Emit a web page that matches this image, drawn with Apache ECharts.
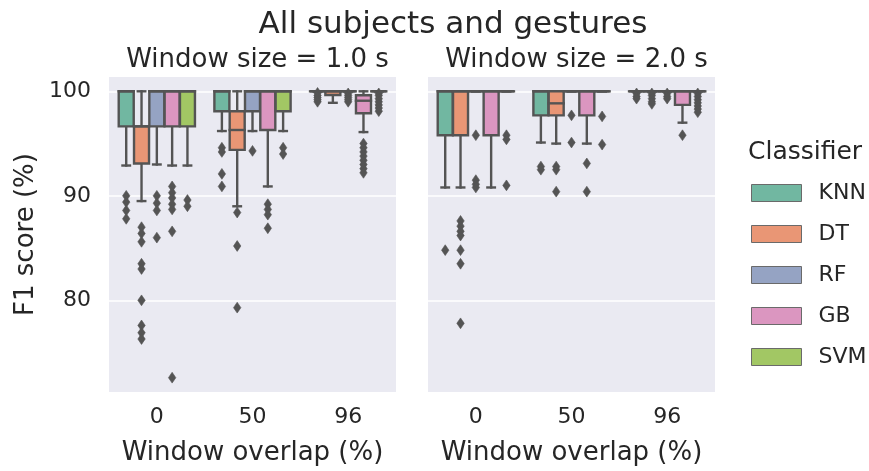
<!DOCTYPE html>
<html>
<head>
<meta charset="utf-8">
<script src="https://cdn.jsdelivr.net/npm/echarts@6/dist/echarts.min.js"></script>
<style>
  html, body { margin: 0; padding: 0; background: #ffffff; }
  #chart { width: 869px; height: 471px; }
</style>
</head>
<body>
<div id="chart"></div>
<script>
// Categories and labels
const overlaps = ['0', '50', '96'];
const classifiers = ['KNN', 'DT', 'RF', 'GB', 'SVM'];
const windowTitles = ['Window size = 1.0 s', 'Window size = 2.0 s'];
const yTicks = [80, 90, 100];

// Box statistics per overlap: [lower whisker, Q1, median, Q3, upper whisker]
// Window size = 1.0 s
const knnBox1 = [[92.9, 96.65, 100, 100, 100], [96.2, 98.1, 100, 100, 100], [100, 100, 100, 100, 100]];
const dtBox1  = [[89.5, 93.1, 96.65, 96.65, 100], [89.0, 94.4, 96.3, 98.1, 100], [98.9, 99.65, 100, 100, 100]];
const rfBox1  = [[93.0, 96.65, 100, 100, 100], [96.2, 98.1, 100, 100, 100], [100, 100, 100, 100, 100]];
const gbBox1  = [[92.9, 96.65, 100, 100, 100], [90.9, 96.3, 100, 100, 100], [96.1, 97.9, 99.1, 99.62, 100]];
const svmBox1 = [[92.9, 96.65, 100, 100, 100], [96.2, 98.1, 100, 100, 100], [100, 100, 100, 100, 100]];
// Window size = 2.0 s
const knnBox2 = [[90.8, 95.8, 100, 100, 100], [95.1, 97.7, 100, 100, 100], [100, 100, 100, 100, 100]];
const dtBox2  = [[90.8, 95.8, 100, 100, 100], [95.0, 97.7, 98.85, 100, 100], [100, 100, 100, 100, 100]];
const rfBox2  = [[100, 100, 100, 100, 100], [100, 100, 100, 100, 100], [100, 100, 100, 100, 100]];
const gbBox2  = [[90.8, 95.8, 100, 100, 100], [95.0, 97.7, 100, 100, 100], [97.0, 98.7, 100, 100, 100]];
const svmBox2 = [[100, 100, 100, 100, 100], [100, 100, 100, 100, 100], [100, 100, 100, 100, 100]];

// Outliers per overlap
// Window size = 1.0 s
const knnOut1 = [[90.0, 89.4, 88.6, 87.8], [94.6, 94.2, 92.1, 90.9], [99.85, 99.6, 99.4, 99.2, 99.0]];
const dtOut1  = [[87.0, 86.4, 85.6, 83.5, 83.0, 80.0, 77.6, 76.9, 76.3], [88.4, 85.2, 79.3], []];
const rfOut1  = [[90.0, 89.3, 88.6, 86.0], [94.3], [99.8, 99.6, 99.4, 99.2, 99.0]];
const gbOut1  = [[90.9, 90.3, 89.8, 89.2, 88.7, 86.6, 72.6], [89.2, 88.7, 88.2, 86.9], [95.0, 94.6, 94.2, 93.8, 93.4, 93.0, 92.6, 92.2]];
const svmOut1 = [[89.6, 89.0], [94.6, 94.0], [99.8, 99.6, 99.3, 99.0, 98.7, 98.4, 98.1]];
// Window size = 2.0 s
const knnOut2 = [[84.8], [92.8, 92.5], [99.8, 99.5, 99.3]];
const dtOut2  = [[87.6, 87.1, 86.6, 86.2, 84.8, 83.5, 77.8], [92.8, 92.5, 90.4], [99.8, 99.6, 99.3, 99.0, 98.8]];
const rfOut2  = [[95.8, 91.5, 91.1, 90.8], [97.7, 95.1], [99.8, 99.5, 99.3]];
const gbOut2  = [[], [93.1, 90.4], [95.8]];
const svmOut2 = [[95.8, 95.4, 91.0], [97.6, 94.9], [99.8, 99.5, 99.2, 98.9, 98.6, 98.3, 98.0]];

const boxSets = [[knnBox1, dtBox1, rfBox1, gbBox1, svmBox1], [knnBox2, dtBox2, rfBox2, gbBox2, svmBox2]];
const outSets = [[knnOut1, dtOut1, rfOut1, gbOut1, svmOut1], [knnOut2, dtOut2, rfOut2, gbOut2, svmOut2]];

// Styling
const PALETTE = ['#71b7a1', '#e99675', '#95a3c3', '#db96c0', '#a2c764'];
const GRAY = '#545454';
const TEXT = '#262626';
const LW = 2.4;
const HUE_SPAN = 0.8;

function hueCenter(api, cat, hue) {
  const band = api.size([1, 0])[0];
  const step = band * HUE_SPAN / classifiers.length;
  const cx = api.coord([cat, 100])[0] + (hue - (classifiers.length - 1) / 2) * step;
  return { cx: cx, w: step * 0.98 };
}

function boxRenderer(hue, color) {
  return function (params, api) {
    const cat = api.value(0);
    const c = hueCenter(api, cat, hue);
    const cx = c.cx, w = c.w;
    const y = function (i) { return api.coord([cat, api.value(i)])[1]; };
    const lo = y(1), q1 = y(2), med = y(3), q3 = y(4), hi = y(5);
    const ls = { stroke: GRAY, lineWidth: LW, lineCap: 'square' };
    return {
      type: 'group',
      children: [
        { type: 'line', shape: { x1: cx, y1: q1, x2: cx, y2: lo }, style: ls },
        { type: 'line', shape: { x1: cx, y1: q3, x2: cx, y2: hi }, style: ls },
        { type: 'line', shape: { x1: cx - w / 4, y1: lo, x2: cx + w / 4, y2: lo }, style: ls },
        { type: 'line', shape: { x1: cx - w / 4, y1: hi, x2: cx + w / 4, y2: hi }, style: ls },
        { type: 'rect', shape: { x: cx - w / 2, y: q3, width: w, height: q1 - q3 },
          style: { fill: color, stroke: GRAY, lineWidth: LW } },
        { type: 'line', shape: { x1: cx - w / 2, y1: med, x2: cx + w / 2, y2: med }, style: ls }
      ]
    };
  };
}

// Thin diamond marker for outliers
function flierRenderer(hue) {
  return function (params, api) {
    const cat = api.value(0);
    const c = hueCenter(api, cat, hue);
    const cy = api.coord([cat, api.value(1)])[1];
    const hw = 3.7, hh = 5.4;
    return {
      type: 'polygon',
      shape: { points: [[c.cx, cy - hh], [c.cx + hw, cy], [c.cx, cy + hh], [c.cx - hw, cy]] },
      style: { fill: GRAY, stroke: GRAY, lineWidth: 0.6 }
    };
  };
}

const series = [];
[0, 1].forEach(function (panel) {
  classifiers.forEach(function (name, hue) {
    const boxData = boxSets[panel][hue].map(function (s, k) { return [k].concat(s); });
    series.push({
      type: 'custom', name: name, xAxisIndex: panel, yAxisIndex: panel,
      renderItem: boxRenderer(hue, PALETTE[hue]),
      encode: { x: 0, y: [1, 2, 3, 4, 5] },
      itemStyle: { color: PALETTE[hue] },
      data: boxData, z: 3, silent: true
    });
    const flierData = [];
    outSets[panel][hue].forEach(function (vals, k) {
      vals.forEach(function (v) { flierData.push([k, v]); });
    });
    series.push({
      type: 'custom', name: name, xAxisIndex: panel, yAxisIndex: panel,
      renderItem: flierRenderer(hue),
      encode: { x: 0, y: 1 },
      itemStyle: { color: PALETTE[hue] },
      data: flierData, z: 4, silent: true
    });
  });
});

const Y_MIN = 71.23, Y_MAX = 101.37;
const grids = [
  { left: 109, top: 77, width: 287, height: 318 },
  { left: 428, top: 77, width: 287, height: 318 }
];

const option = {
  animation: false,
  backgroundColor: '#ffffff',
  textStyle: { fontFamily: 'DejaVu Sans' },
  title: [
    { text: 'All subjects and gestures', left: 448, top: 4, textAlign: 'center',
      textStyle: { fontSize: 31, fontWeight: 'normal', color: TEXT, fontFamily: 'DejaVu Sans' } },
    { text: windowTitles[0], left: 252.5, top: 42, textAlign: 'center',
      textStyle: { fontSize: 26, fontWeight: 'normal', color: TEXT, fontFamily: 'DejaVu Sans' } },
    { text: windowTitles[1], left: 571.5, top: 42, textAlign: 'center',
      textStyle: { fontSize: 26, fontWeight: 'normal', color: TEXT, fontFamily: 'DejaVu Sans' } },
    { text: 'Classifier', left: 743, top: 135,
      textStyle: { fontSize: 25, fontWeight: 'normal', color: TEXT, fontFamily: 'DejaVu Sans' } }
  ],
  legend: {
    orient: 'vertical', left: 746, top: 177,
    itemWidth: 50, itemHeight: 17, itemGap: 19,
    icon: 'rect', selectedMode: false,
    data: classifiers.map(function (c, i) {
      return { name: c, itemStyle: { color: PALETTE[i], borderColor: '#6a6a6a', borderWidth: 1 } };
    }),
    textStyle: { fontSize: 22, color: TEXT, fontFamily: 'DejaVu Sans', lineHeight: 17, padding: [0, 0, 0, 12] }
  },
  grid: grids.map(function (g) {
    return Object.assign({ show: true, backgroundColor: '#eaeaf2', borderWidth: 0, containLabel: false }, g);
  }),
  xAxis: [0, 1].map(function (i) {
    return {
      type: 'category', gridIndex: i, data: overlaps,
      axisLine: { show: false }, axisTick: { show: false }, splitLine: { show: false },
      axisLabel: { fontSize: 22, color: TEXT, margin: 14, fontFamily: 'DejaVu Sans' },
      name: 'Window overlap (%)', nameLocation: 'middle', nameGap: 48,
      nameTextStyle: { fontSize: 26, color: TEXT, fontFamily: 'DejaVu Sans' }
    };
  }),
  yAxis: [0, 1].map(function (i) {
    return {
      type: 'value', gridIndex: i, min: Y_MIN, max: Y_MAX,
      axisLine: { show: false },
      axisTick: { show: false, customValues: yTicks },
      axisLabel: { show: i === 0, customValues: yTicks, fontSize: 22, color: TEXT, margin: 18, fontFamily: 'DejaVu Sans' },
      splitLine: { show: true, lineStyle: { color: '#ffffff', width: 1.6 } },
      name: i === 0 ? 'F1 score (%)' : '', nameLocation: 'middle', nameGap: 70,
      nameTextStyle: { fontSize: 26, color: TEXT, fontFamily: 'DejaVu Sans' }
    };
  }),
  series: series
};

const chart = echarts.init(document.getElementById('chart'), null, { renderer: 'canvas' });
chart.setOption(option);
</script>
</body>
</html>
